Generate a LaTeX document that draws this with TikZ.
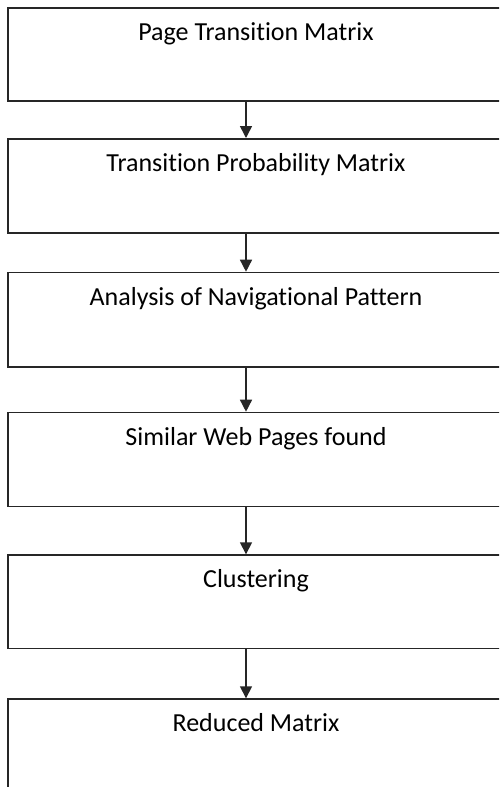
\documentclass[tikz,border=0pt]{standalone}
\usepackage{fontspec}
\setmainfont[Ligatures={NoCommon}]{Carlito}
\usetikzlibrary{arrows.meta,calc}
\begin{document}
\begin{tikzpicture}[x=1pt,y=-1pt,
  stepbox/.style={draw=black!85,line width=1.6pt,rectangle,minimum width=496pt,anchor=north,inner sep=0pt},
  steptext/.style={anchor=base,font=\fontsize{26}{30}\selectfont,inner sep=0pt},
  arr/.style={draw=black!85,line width=1.5pt,-{Triangle[width=12pt,length=12pt]}}]
\clip (0,0) rectangle (499,787);
\fill[white] (0,0) rectangle (499,787);
\coordinate (ax) at (246,0);
\node[stepbox,minimum height=93pt] (b1) at (256,7) {};
\node[stepbox,minimum height=94pt] (b2) at (256,138) {};
\node[stepbox,minimum height=94.3pt] (b3) at (256,271.7) {};
\node[stepbox,minimum height=94pt] (b4) at (256,411.7) {};
\node[stepbox,minimum height=93.4pt] (b5) at (256,554.3) {};
\node[stepbox,minimum height=130pt] (b6) at (256,698.3) {};
\node[steptext] (t1) at ($(b1.north)+(0,33.5)$) {Page Transition Matrix};
\node[steptext] (t2) at ($(b2.north)+(0,33.7)$) {Transition Probability Matrix};
\node[steptext] (t3) at ($(b3.north)+(0,33.5)$) {Analysis of Navigational Pattern};
\node[steptext] (t4) at ($(b4.north)+(0,33.5)$) {Similar Web Pages found};
\node[steptext] (t5) at ($(b5.north)+(0,33.5)$) {Clustering};
\node[steptext] (t6) at ($(b6.north)+(0,33)$) {Reduced Matrix};
\draw[arr] (b1.south -| ax) -- (b2.north -| ax);
\draw[arr] (b2.south -| ax) -- (b3.north -| ax);
\draw[arr] (b3.south -| ax) -- (b4.north -| ax);
\draw[arr] (b4.south -| ax) -- (b5.north -| ax);
\draw[arr] (b5.south -| ax) -- (b6.north -| ax);
\end{tikzpicture}
\end{document}
